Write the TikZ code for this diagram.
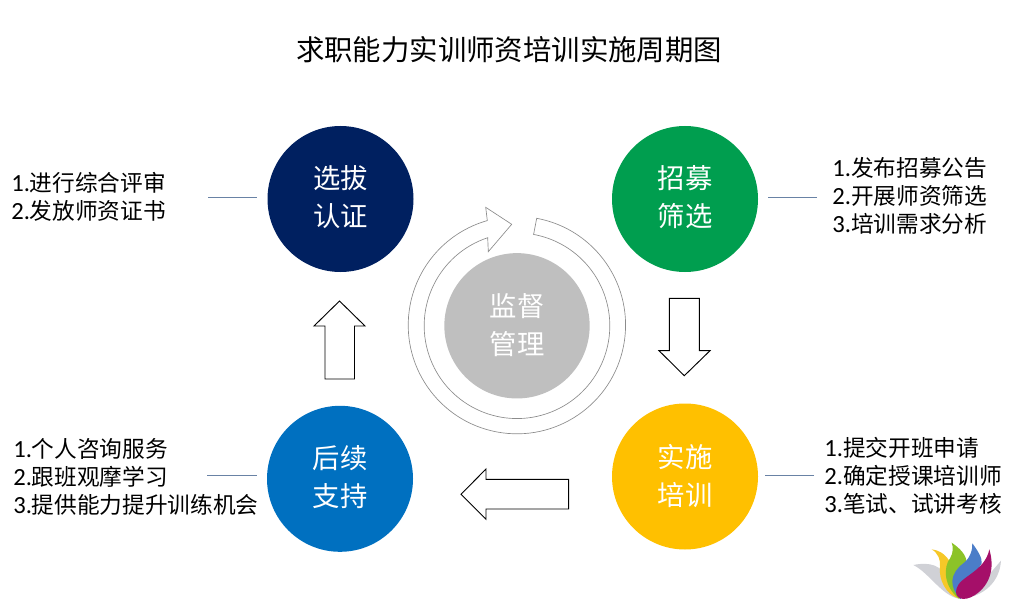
\documentclass[tikz,border=0pt]{standalone}
\usepackage{fontspec}
\setmainfont{Noto Sans CJK SC}
\newfontfamily\latinf{Carlito}
\newcommand{\dg}[1]{{\latinf\fontsize{18.5}{21}\selectfont #1}}
\definecolor{navyc}{RGB}{0,32,96}
\definecolor{greenc}{RGB}{0,158,79}
\definecolor{ambc}{RGB}{255,192,0}
\definecolor{bluec}{RGB}{0,112,192}
\definecolor{grayc}{RGB}{191,191,191}
\definecolor{leadc}{RGB}{105,130,165}
\definecolor{petalg}{RGB}{208,209,214}
\definecolor{petaly}{RGB}{246,200,40}
\definecolor{petalv}{RGB}{140,195,40}
\definecolor{petalb}{RGB}{75,125,200}
\definecolor{petalm}{RGB}{165,15,105}
\begin{document}
\begin{tikzpicture}[x=0.75pt,y=0.75pt,
  hub/.style={circle,minimum size=109.5pt,inner sep=0pt},
  hubtext/.style={inner sep=0pt,text=white,align=center,font=\fontsize{20.5}{28.5}\selectfont},
  side/.style={anchor=north west,inner sep=0pt,align=left,text=black,font=\fontsize{17}{21}\selectfont},
  lead/.style={draw=leadc,line width=0.55pt},
  blockarrow/.style={draw=black,line width=0.7pt,fill=white,line join=miter},
  ring/.style={draw=black!45,line width=0.5pt,fill=white},
  heading/.style={inner sep=0pt,text=black,font=\fontsize{21.3}{24}\selectfont}]
\path[use as bounding box] (0,0) rectangle (1010,608);
\node[heading] (title) at (509,558) {求职能力实训师资培训实施周期图};
\node[hub,fill=grayc,minimum size=109pt,label={[hubtext,yshift=0.6pt]center:{监督\\管理}}] (center) at (517,282.2) {};
\draw[ring,fill=none] (536.7,389.7) arc[start angle=79.5,end angle=-254.2,radius=81.5pt]
  -- (485.7,400.7) -- (511.7,383.7) -- (488.3,356.3) -- (487.7,370.3)
  arc[start angle=108.4,end angle=439.7,radius=69.6pt] -- cycle;
\node[hub,fill=navyc,label={[hubtext,yshift=1.5pt]center:{选拔\\认证}}] (a) at (340.5,409) {};
\node[hub,fill=greenc,label={[hubtext,yshift=1.5pt]center:{招募\\筛选}}] (b) at (685,409) {};
\node[hub,fill=ambc,label={[hubtext,yshift=0.4pt]center:{实施\\培训}}] (c) at (685,131.5) {};
\node[hub,fill=bluec,label={[hubtext,yshift=1.4pt]center:{后续\\支持}}] (d) at (340,129.2) {};
\node[side] (ta) at (11,436) {\dg{1.}进行综合评审\\\dg{2.}发放师资证书};
\node[side] (tb) at (832,451) {\dg{1.}发布招募公告\\\dg{2.}开展师资筛选\\\dg{3.}培训需求分析};
\node[side] (tc) at (824,171) {\dg{1.}提交开班申请\\\dg{2.}确定授课培训师\\\dg{3.}笔试、试讲考核};
\node[side] (td) at (13,170) {\dg{1.}个人咨询服务\\\dg{2.}跟班观摩学习\\\dg{3.}提供能力提升训练机会};
\coordinate (la) at (208,411); \coordinate (lb) at (817,411);
\coordinate (lc) at (814,133); \coordinate (ld) at (207,132.7);
\draw[lead] (la) -- (257,411);
\draw[lead] (lb) -- (768,411);
\draw[lead] (lc) -- (765,133);
\draw[lead] (ld) -- (257,132.7);
\draw[blockarrow] (325,229) -- (325,282) -- (314,282) -- (339.5,307) -- (365,282) -- (354.5,282) -- (354.5,229) -- cycle;
\draw[blockarrow] (669.3,309.7) -- (699.3,309.7) -- (699.3,257.3) -- (710,257.3) -- (684.3,232.3) -- (659,257.3) -- (669.3,257.3) -- cycle;
\draw[blockarrow] (568.7,128.7) -- (568.7,99) -- (486,99) -- (486,88.7) -- (461,113.7) -- (486,139) -- (486,128.7) -- cycle;
\begin{scope}[shift={(900,78)},xscale=0.3333,yscale=-0.3333]
\fill[petalg] (40,105) .. controls (90,95) and (125,105) .. (145,150) .. controls (155,180) and (165,200) .. (185,207) .. controls (130,205) and (90,130) .. (40,105) -- cycle;
\fill[petalg] (303,92) .. controls (300,140) and (270,195) .. (185,207) .. controls (230,180) and (270,130) .. (303,92) -- cycle;
\fill[petaly] (95,58) .. controls (130,62) and (170,90) .. (175,205) .. controls (140,195) and (115,150) .. (120,110) .. controls (122,90) and (115,70) .. (95,58) -- cycle;
\fill[petalv] (155,38) .. controls (180,55) and (200,75) .. (200,100) -- (178,207) .. controls (130,170) and (130,110) .. (150,85) .. controls (160,70) and (160,50) .. (155,38) -- cycle;
\fill[petalb] (217,40) .. controls (232,60) and (248,85) .. (245,100) -- (182,207) .. controls (145,170) and (150,130) .. (190,100) .. controls (210,85) and (218,60) .. (217,40) -- cycle;
\fill[petalm] (268,58) .. controls (285,115) and (270,165) .. (225,195) .. controls (190,218) and (160,205) .. (170,175) .. controls (178,140) and (255,125) .. (268,58) -- cycle;
\end{scope}
\end{tikzpicture}
\end{document}
